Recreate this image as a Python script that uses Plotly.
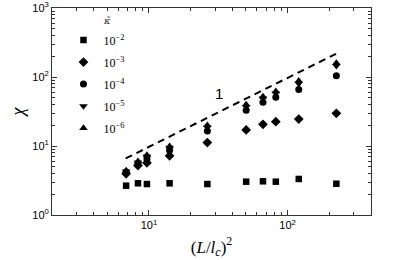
import numpy as np
import plotly.graph_objects as go

# data
x_vals = [6.85, 8.34, 9.68, 14.1, 26.4, 50.3, 66.5, 82.3, 120.5, 225]
chi_k2 = [2.66, 2.88, 2.81, 2.88, 2.81, 3.04, 3.08, 3.04, 3.33, 2.84]
chi_k3 = [3.95, 5.2, 5.7, 7.2, 11.2, 17.1, 20.6, 22.5, 24.6, 29.8]
chi_k4 = [4.2, 5.5, 6.5, 8.7, 16.5, 33, 43, 51, 66, 104]
chi_k5 = [4.3, 5.8, 7.1, 9.5, 18.5, 37, 49, 58, 80, 145]
chi_k6 = [4.4, 6.0, 7.4, 9.9, 20, 40, 52, 62, 88, 160]
series_labels = ["10<sup>\u22122</sup>", "10<sup>\u22123</sup>", "10<sup>\u22124</sup>",
                 "10<sup>\u22125</sup>", "10<sup>\u22126</sup>"]
guide_x = [6.8, 228]
guide_y = [6.6, 221]
slope_label = "1"
y_tick_vals = [1, 10, 100, 1000]
y_tick_text = ["10<sup>0</sup>", "10<sup>1</sup>", "10<sup>2</sup>", "10<sup>3</sup>"]
x_tick_vals = [10, 100]
x_tick_text = ["10<sup>1</sup>", "10<sup>2</sup>"]

symbols = ["square", "diamond", "circle", "triangle-down", "triangle-up"]
sizes = [6.5, 7.5, 7, 7.5, 7.5]
series = [chi_k2, chi_k3, chi_k4, chi_k5, chi_k6]

fig = go.Figure()
for i, (ys, sym, sz, lab) in enumerate(zip(series, symbols, sizes, series_labels)):
    fig.add_trace(go.Scatter(
        x=x_vals, y=ys, mode="markers", name=lab, legendgroup=f"g{i}",
        marker=dict(symbol=sym, size=sz, color="black", line=dict(width=0)),
    ))

fig.add_trace(go.Scatter(
    x=guide_x, y=guide_y, mode="lines", showlegend=False,
    line=dict(color="black", width=2, dash="7px,5px"),
))

minor_x = [v * d for d in (1, 10, 100) for v in range(2, 10)]
minor_y = [v * d for d in (1, 10, 100) for v in range(2, 10)]

axis_common = dict(
    type="log", showgrid=False, zeroline=False, showline=True, automargin=False,
    linecolor="#333", linewidth=1, mirror="allticks",
    ticks="inside", ticklen=5, tickwidth=1, tickcolor="#333",
    tickfont=dict(family="Liberation Sans, Arial", size=11, color="black"),
)

fig.update_xaxes(
    **axis_common,
    range=[np.log10(2), np.log10(400)],
    tickvals=x_tick_vals, ticktext=x_tick_text,
    minor=dict(tickvals=minor_x, ticks="inside", ticklen=3, tickcolor="#333"),
    title=dict(text="(<i>L</i>/<i>l</i><sub><i>c</i></sub>)<sup>2</sup>",
               font=dict(family="Liberation Serif, DejaVu Serif", size=17, color="black"),
               standoff=10),
)
fig.update_yaxes(
    **axis_common,
    range=[0, 3],
    tickvals=y_tick_vals, ticktext=y_tick_text,
    minor=dict(tickvals=minor_y, ticks="inside", ticklen=3, tickcolor="#333"),
    title=dict(text="<i>\u03c7</i>",
               font=dict(family="Liberation Serif, DejaVu Serif", size=18, color="black"),
               standoff=2),
)

fig.add_annotation(x=np.log10(32.2), y=np.log10(58), text=slope_label, showarrow=False,
                   font=dict(family="Liberation Sans, Arial", size=15, color="black"))
fig.add_annotation(x=0.171, y=0.942, xref="paper", yref="paper", text="<i>\u03ba\u0303</i>",
                   showarrow=False, xanchor="center", yanchor="middle",
                   font=dict(family="DejaVu Serif", size=10, color="#333"))

fig.update_layout(
    width=399, height=260,
    margin=dict(l=52, r=28, t=8, b=45),
    paper_bgcolor="white", plot_bgcolor="white",
    showlegend=True,
    legend=dict(x=0.036, y=0.915, xanchor="left", yanchor="top",
                bgcolor="rgba(0,0,0,0)", tracegroupgap=3,
                font=dict(family="Liberation Serif, DejaVu Serif", size=12, color="black")),
)

fig.write_html("out.html", config={"displayModeBar": False},
               post_script="document.body.style.margin='0';")
